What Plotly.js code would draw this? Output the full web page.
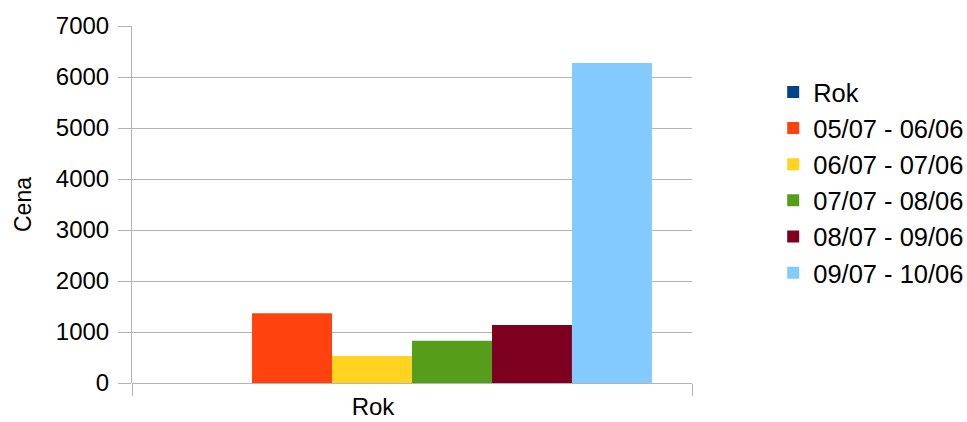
<!DOCTYPE html>
<html>
<head>
<meta charset="utf-8">
<script src="https://cdn.plot.ly/plotly-3.0.1.min.js"></script>
<style>html,body{margin:0;padding:0;background:#fff;}#chart{width:967px;height:422px;}</style>
</head>
<body>
<div id="chart"></div>
<script>
const categories = ["Rok"];
const seriesNames = ["Rok", "05/07 - 06/06", "06/07 - 07/06", "07/07 - 08/06", "08/07 - 09/06", "09/07 - 10/06"];
const seriesValues = [0, 1366, 529, 829, 1136, 6275];
const seriesColors = ["#004586", "#ff420e", "#ffd320", "#579d1c", "#7e0021", "#83caff"];
const yTicks = [0, 1000, 2000, 3000, 4000, 5000, 6000, 7000];
const yTitle = "Cena";

const fam = "Liberation Sans, Arial, sans-serif";

const traces = seriesNames.map((name, i) => ({
  type: "bar",
  name: name,
  x: categories,
  y: [seriesValues[i]],
  marker: {color: seriesColors[i], line: {width: 0}},
  hoverinfo: "skip"
}));

const layout = {
  width: 967,
  height: 422,
  margin: {l: 132, r: 275, t: 26, b: 39, autoexpand: false},
  paper_bgcolor: "#fff",
  plot_bgcolor: "#fff",
  font: {family: fam, size: 24, color: "#000"},
  barmode: "group",
  bargap: 0.143,
  bargroupgap: 0,
  showlegend: true,
  legend: {
    x: 1.145, xanchor: "left",
    y: 0.88, yanchor: "top",
    font: {family: fam, size: 25.5, color: "#000"},
    tracegroupgap: 0,
    traceorder: "normal",
    itemwidth: 30,
    bgcolor: "rgba(0,0,0,0)"
  },
  xaxis: {
    type: "category",
    tickson: "boundaries",
    ticks: "outside",
    ticklen: 12,
    tickcolor: "#b3b3b3",
    showgrid: true,
    gridcolor: "#b3b3b3",
    gridwidth: 1,
    showline: false,
    ticklabelshift: -39,
    ticklabelstandoff: 7,
    tickfont: {family: fam, size: 24, color: "#000"},
    automargin: false,
    fixedrange: true
  },
  yaxis: {
    range: [0, 7000],
    tickvals: yTicks,
    ticktext: yTicks.map(String),
    ticks: "outside",
    ticklen: 13,
    tickcolor: "#b3b3b3",
    showgrid: true,
    gridcolor: "#b3b3b3",
    gridwidth: 1,
    zeroline: true,
    zerolinecolor: "#b3b3b3",
    zerolinewidth: 1,
    showline: true,
    linecolor: "#b3b3b3",
    linewidth: 1,
    ticklabelstandoff: 4,
    tickfont: {family: fam, size: 24, color: "#000"},
    title: {text: yTitle, font: {family: fam, size: 23, color: "#000"}, standoff: 17},
    automargin: false,
    fixedrange: true
  }
};

Plotly.newPlot("chart", traces, layout, {displayModeBar: false, staticPlot: true});
</script>
</body>
</html>
